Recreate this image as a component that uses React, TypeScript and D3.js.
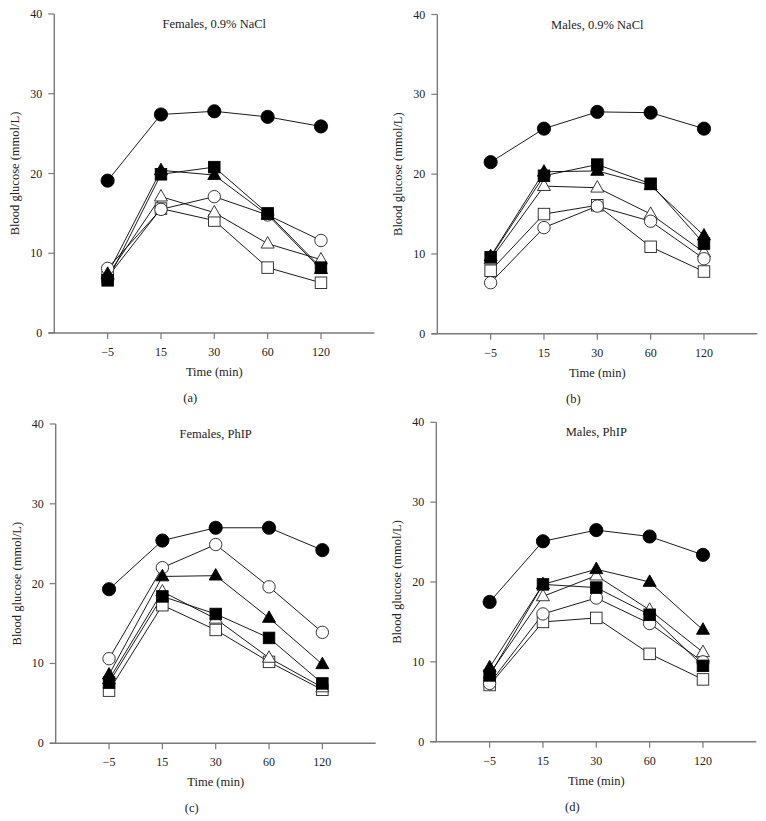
import React from "react";
import * as d3 from "d3";

const categories = ["−5", "15", "30", "60", "120"];
const yTicks = [0, 10, 20, 30, 40];

// Series order: filled circle, open circle, filled triangle, open triangle, filled square, open square
const seriesKeys = ["filledCircle", "openCircle", "filledTriangle", "openTriangle", "filledSquare", "openSquare"];

// (a) Females, 0.9% NaCl
const aFilledCircle = [19.1, 27.4, 27.8, 27.1, 25.9];
const aOpenCircle = [8.1, 15.5, 17.1, 14.8, 11.6];
const aFilledTriangle = [7.4, 20.4, 19.8, 14.8, 8.0];
const aOpenTriangle = [7.2, 17.1, 15.1, 11.2, 9.2];
const aFilledSquare = [6.6, 19.9, 20.8, 15.0, 8.2];
const aOpenSquare = [7.0, 15.6, 14.1, 8.2, 6.3];

// (b) Males, 0.9% NaCl
const bFilledCircle = [21.5, 25.7, 27.8, 27.7, 25.7];
const bOpenCircle = [6.4, 13.3, 16.0, 14.1, 9.4];
const bFilledTriangle = [9.7, 20.3, 20.4, 18.6, 12.3];
const bOpenTriangle = [9.3, 18.5, 18.3, 15.0, 10.2];
const bFilledSquare = [9.6, 19.8, 21.2, 18.8, 11.3];
const bOpenSquare = [7.9, 15.0, 16.1, 10.9, 7.8];

// (c) Females, PhIP
const cFilledCircle = [19.3, 25.4, 27.0, 27.0, 24.2];
const cOpenCircle = [10.6, 22.0, 24.9, 19.6, 13.9];
const cFilledTriangle = [8.6, 20.9, 21.0, 15.7, 9.9];
const cOpenTriangle = [8.0, 19.0, 15.6, 10.7, 7.0];
const cFilledSquare = [7.6, 18.4, 16.2, 13.2, 7.5];
const cOpenSquare = [6.6, 17.3, 14.2, 10.2, 6.7];

// (d) Males, PhIP
const dFilledCircle = [17.5, 25.1, 26.5, 25.7, 23.4];
const dOpenCircle = [7.3, 16.0, 18.0, 14.8, 10.0];
const dFilledTriangle = [9.3, 19.7, 21.6, 20.0, 14.0];
const dOpenTriangle = [8.5, 18.2, 20.8, 16.5, 11.2];
const dFilledSquare = [8.3, 19.7, 19.3, 15.9, 9.5];
const dOpenSquare = [7.1, 15.0, 15.5, 11.0, 7.8];

const panelTitles = ["Females, 0.9% NaCl", "Males, 0.9% NaCl", "Females, PhIP", "Males, PhIP"];
const panelLetters = ["(a)", "(b)", "(c)", "(d)"];
const yLabel = "Blood glucose (mmol/L)";
const xLabel = "Time (min)";

const panelData = [
  [aFilledCircle, aOpenCircle, aFilledTriangle, aOpenTriangle, aFilledSquare, aOpenSquare],
  [bFilledCircle, bOpenCircle, bFilledTriangle, bOpenTriangle, bFilledSquare, bOpenSquare],
  [cFilledCircle, cOpenCircle, cFilledTriangle, cOpenTriangle, cFilledSquare, cOpenSquare],
  [dFilledCircle, dOpenCircle, dFilledTriangle, dOpenTriangle, dFilledSquare, dOpenSquare],
];

const layouts = [
  { x0: 54.3, yTop: 14, yBot: 333 },
  { x0: 437.3, yTop: 14.5, yBot: 333.8 },
  { x0: 55.7, yTop: 424, yBot: 743.3 },
  { x0: 436.3, yTop: 422.3, yBot: 741.7 },
];

const FONT = "'Liberation Serif', 'Times New Roman', serif";
const AXIS = "#7a7a7a";
const TEXT = "#222";

function Marker({ kind, x, y }: { kind: string; x: number; y: number }) {
  const filled = kind.startsWith("filled");
  const fill = filled ? "#000" : "#fff";
  const stroke = filled ? "#000" : "#222";
  if (kind.endsWith("Circle")) {
    return <circle cx={x} cy={y} r={filled ? 6.6 : 6.2} fill={fill} stroke={stroke} strokeWidth={0.9} />;
  }
  if (kind.endsWith("Square")) {
    const s = 11.5;
    return <rect x={x - s / 2} y={y - s / 2} width={s} height={s} fill={fill} stroke={stroke} strokeWidth={0.9} />;
  }
  const h = 11.5;
  const w = 13;
  const pts = `${x},${y - h * 0.62} ${x + w / 2},${y + h * 0.38} ${x - w / 2},${y + h * 0.38}`;
  return <polygon points={pts} fill={fill} stroke={stroke} strokeWidth={0.9} />;
}

function Panel({ idx }: { idx: number }) {
  const { x0, yTop, yBot } = layouts[idx];
  const width = 320;
  const x = d3.scalePoint<string>().domain(categories).range([x0, x0 + width]).padding(1);
  const y = d3.scaleLinear().domain([0, 40]).range([yBot, yTop]);
  const line = d3
    .line<number>()
    .x((_, i) => x(categories[i]) as number)
    .y((v) => y(v));
  const data = panelData[idx];
  const drawOrder = [5, 3, 1, 2, 4, 0];
  const midX = x(categories[2]) as number;
  return (
    <g>
      {/* axes */}
      <line x1={x0} x2={x0} y1={yTop} y2={yBot} stroke={AXIS} strokeWidth={1.4} />
      <line x1={x0 - 6} x2={x0 + width} y1={yBot} y2={yBot} stroke={AXIS} strokeWidth={1.4} />
      {yTicks.map((t) => (
        <g key={t}>
          <line x1={x0 - 6} x2={x0} y1={y(t)} y2={y(t)} stroke={AXIS} strokeWidth={1.2} />
          <text x={x0 - 12} y={y(t) + 4} textAnchor="end" fontSize={12} fontFamily={FONT} fill={TEXT}>
            {t}
          </text>
        </g>
      ))}
      {categories.map((c) => (
        <g key={c}>
          <line x1={x(c)} x2={x(c)} y1={yBot} y2={yBot + 6} stroke={AXIS} strokeWidth={1.2} />
          <text x={x(c)} y={yBot + 23} textAnchor="middle" fontSize={12} fontFamily={FONT} fill={TEXT}>
            {c}
          </text>
        </g>
      ))}
      <text x={midX} y={yBot + 43} textAnchor="middle" fontSize={12.5} fontFamily={FONT} fill={TEXT}>
        {xLabel}
      </text>
      <text x={x0 - 3 * 0 + (x(categories[2]) as number) - x0 - 24} y={yBot + 69} textAnchor="middle" fontSize={12.5} fontFamily={FONT} fill={TEXT}>
        {panelLetters[idx]}
      </text>
      <text
        transform={`translate(${x0 - 35},${(yTop + yBot) / 2}) rotate(-90)`}
        textAnchor="middle"
        fontSize={12.5}
        fontFamily={FONT}
        fill={TEXT}
      >
        {yLabel}
      </text>
      <text x={midX} y={yTop + 14} textAnchor="middle" fontSize={12.5} fontFamily={FONT} fill={TEXT}>
        {panelTitles[idx]}
      </text>
      {/* lines */}
      {data.map((vals, si) => (
        <path key={si} d={line(vals) || ""} fill="none" stroke="#000" strokeWidth={0.9} />
      ))}
      {/* markers */}
      {drawOrder.map((si) => (
        <g key={si}>
          {data[si].map((v, i) => (
            <Marker key={i} kind={seriesKeys[si]} x={x(categories[i]) as number} y={y(v)} />
          ))}
        </g>
      ))}
    </g>
  );
}

export default function App() {
  return (
    <svg width={766} height={821} style={{ position: "absolute", left: 0, top: 0, background: "#fff" }}>
      <rect width={766} height={821} fill="#fff" />
      {[0, 1, 2, 3].map((i) => (
        <Panel key={i} idx={i} />
      ))}
    </svg>
  );
}
